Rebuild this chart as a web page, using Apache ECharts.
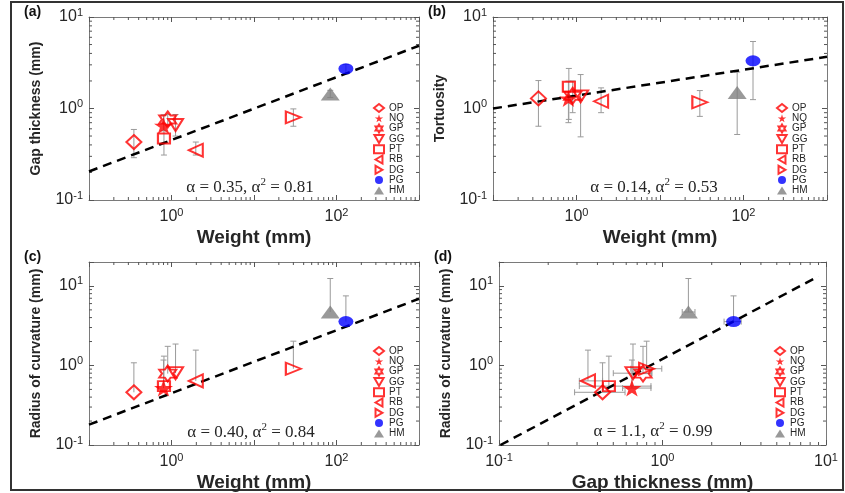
<!DOCTYPE html>
<html>
<head>
<meta charset="utf-8">
<script src="https://cdn.jsdelivr.net/npm/echarts@6.0.0/dist/echarts.min.js"></script>
<style>
  html, body { margin: 0; padding: 0; background: #fff; }
  #chart { width: 845px; height: 493px; }
</style>
</head>
<body>
<div id="chart"></div>
<script>
// sample codes, same order in every array below
var codes = ['OP', 'NQ', 'GP', 'GG', 'PT', 'RB', 'DG', 'PG', 'HM'];
var weight = [0.35, 0.80, 0.90, 1.12, 0.81, 1.97, 30, 130, 84];
var gap = [0.43, 0.65, 0.76, 0.66, 0.47, 0.35, 0.80, 2.72, 1.44];
var gapLo = [0.29, 0.57, 0.66, 0.50, 0.31, 0.31, 0.64, 2.38, 1.32];
var gapHi = [0.59, 0.85, 0.86, 0.86, 0.85, 0.43, 0.99, 3.03, 1.58];
var tort = [1.29, 1.29, 1.38, 1.36, 1.73, 1.20, 1.17, 3.32, 1.50];
var tortLo = [0.64, 0.70, 0.90, 0.49, 0.76, 0.90, 0.82, 1.25, 0.52];
var tortHi = [2.02, 1.99, 2.00, 2.35, 2.74, 1.68, 1.57, 5.40, 2.50];
var radius = [0.46, 0.52, 0.79, 0.80, 0.55, 0.64, 0.91, 3.56, 4.70];
var radHi = [1.08, 1.17, 1.74, 1.86, 1.31, 1.56, 2.02, 7.50, 12.4];

// power-law fit lines (end points)
var fitA = [[0.1, 0.205], [1000, 4.85]];
var fitB = [[0.1, 1.0], [1000, 3.67]];
var fitC = [[0.1, 0.18], [1000, 6.9]];
var fitD = [[0.102, 0.1], [9.0, 13.2]];

var statA = ['0.35', '0.81'];
var statB = ['0.14', '0.53'];
var statC = ['0.40', '0.84'];
var statD = ['1.1', '0.99'];

// labelled tick exponents
var xExpW = [0, 2];
var xExpG = [-1, 0, 1];
var yExp = [-1, 0, 1];
var minorMant = [2, 3, 4, 5, 6, 7, 8, 9];

var SANS = '"Liberation Sans", Arial, sans-serif';
var SERIF = '"Liberation Serif", "DejaVu Serif", serif';
var TXT = '#262626';
var RED = '#ff0000';
var BAR = '#9a9a9a';

var STAR = 'path://M50,0 L61,35 L98,35 L68,57 L79,91 L50,70 L21,91 L32,57 L2,35 L39,35 Z';
var HEX = 'path://M50,0 L64.4,25 L93.3,25 L78.9,50 L93.3,75 L64.4,75 L50,100 L35.6,75 L6.7,75 L21.1,50 L6.7,25 L35.6,25 Z';
var TRI_D = 'path://M0,0 L100,0 L50,87 Z';
var TRI_L = 'path://M0,50 L87,0 L87,100 Z';
var TRI_R = 'path://M87,50 L0,0 L0,100 Z';

var hollow = { color: 'rgba(255,255,255,0)', borderColor: RED, borderWidth: 2 };
var markers = {
  OP: { symbol: 'diamond', size: [15, 14], style: hollow },
  NQ: { symbol: STAR, size: [19, 17], style: { color: RED } },
  GP: { symbol: HEX, size: [17, 16], style: hollow },
  GG: { symbol: TRI_D, size: [15, 12], style: hollow },
  PT: { symbol: 'rect', size: [12, 10], style: hollow },
  RB: { symbol: TRI_L, size: [14, 13], style: hollow },
  DG: { symbol: TRI_R, size: [15, 12], style: hollow },
  PG: { symbol: 'circle', size: [15, 11], style: { color: '#0000ff' } },
  HM: { symbol: 'triangle', size: [19, 13], style: { color: '#808080' } }
};

var panels = [
  { tag: '(a)', grid: { left: 89, top: 17, width: 330, height: 183 }, xr: [0.1, 1000], yr: [0.1, 10],
    xs: weight, ys: gap, yLo: gapLo, yHi: gapHi, fit: fitA, stat: statA, xExp: xExpW,
    xName: 'Weight (mm)', yName: 'Gap thickness (mm)', legend: [373, 103], statPos: [250, 188] },
  { tag: '(b)', grid: { left: 493, top: 17, width: 334, height: 183 }, xr: [0.1, 1000], yr: [0.1, 10],
    xs: weight, ys: tort, yLo: tortLo, yHi: tortHi, fit: fitB, stat: statB, xExp: xExpW,
    xName: 'Weight (mm)', yName: 'Tortuosity', legend: [776, 103], statPos: [654, 188] },
  { tag: '(c)', grid: { left: 89, top: 262, width: 330, height: 183 }, xr: [0.1, 1000], yr: [0.1, 20],
    xs: weight, ys: radius, yLo: radius, yHi: radHi, fit: fitC, stat: statC, xExp: xExpW,
    xName: 'Weight (mm)', yName: 'Radius of curvature (mm)', legend: [373, 346], statPos: [251, 433] },
  { tag: '(d)', grid: { left: 499, top: 262, width: 327, height: 183 }, xr: [0.1, 10], yr: [0.1, 20],
    xs: gap, ys: radius, yLo: radius, yHi: radHi, xLo: gapLo, xHi: gapHi, fit: fitD, stat: statD, xExp: xExpG,
    xName: 'Gap thickness (mm)', yName: 'Radius of curvature (mm)', legend: [774, 346], statPos: [653, 432] }
];

function powLabel(exps) {
  return function (v) {
    var l = Math.log10(v), e = Math.round(l);
    if (Math.abs(l - e) > 1e-6 || exps.indexOf(e) < 0) return '';
    return '{b|10}{s|' + e + '}';
  };
}
var labelRich = {
  b: { fontSize: 16, color: TXT, fontFamily: SANS },
  s: { fontSize: 11, color: TXT, fontFamily: SANS, padding: [0, 0, 9, 0] }
};

function logAxis(range, extra) {
  var a = {
    type: 'log', logBase: 10, min: range[0], max: range[1],
    splitLine: { show: false },
    axisLine: { lineStyle: { color: '#7a7a7a', width: 1 } },
    axisTick: { inside: true, length: 5, lineStyle: { color: '#555' } }
  };
  for (var k in extra) a[k] = extra[k];
  return a;
}

function minorVals(range) {
  var out = [];
  for (var e = Math.floor(Math.log10(range[0])); e < Math.log10(range[1]); e++) {
    minorMant.forEach(function (m) {
      var v = m * Math.pow(10, e);
      if (v > range[0] && v < range[1]) out.push(v);
    });
  }
  return out;
}

function seg(x1, y1, x2, y2, color) {
  return { type: 'line', shape: { x1: x1, y1: y1, x2: x2, y2: y2 }, style: { stroke: color || BAR, lineWidth: 1 } };
}

function vBar(params, api) {
  var x = api.value(0), y = api.value(1), lo = api.value(2), hi = api.value(3);
  var a = api.coord([x, lo]), b = api.coord([x, hi]);
  var kids = [seg(a[0], a[1], b[0], b[1]), seg(b[0] - 3, b[1], b[0] + 3, b[1])];
  if (lo < y) kids.push(seg(a[0] - 3, a[1], a[0] + 3, a[1]));
  return { type: 'group', children: kids };
}

function hBar(params, api) {
  var y = api.value(1), lo = api.value(2), hi = api.value(3);
  var a = api.coord([lo, y]), b = api.coord([hi, y]);
  return { type: 'group', children: [
    seg(a[0], a[1], b[0], b[1]), seg(a[0], a[1] - 3, a[0], a[1] + 3), seg(b[0], b[1] - 3, b[0], b[1] + 3)
  ] };
}

function xMinor(params, api) {
  var cs = params.coordSys, p = api.coord([api.value(0), api.value(1)]);
  var yb = cs.y + cs.height;
  return { type: 'group', children: [seg(p[0], yb, p[0], yb - 3, '#555'), seg(p[0], cs.y, p[0], cs.y + 3, '#555')] };
}
function yMinor(params, api) {
  var cs = params.coordSys, p = api.coord([api.value(0), api.value(1)]);
  var xr = cs.x + cs.width;
  return { type: 'group', children: [seg(cs.x, p[1], cs.x + 3, p[1], '#555'), seg(xr, p[1], xr - 3, p[1], '#555')] };
}

var option = {
  backgroundColor: '#fff',
  animation: false,
  grid: [], xAxis: [], yAxis: [], legend: [], series: [],
  graphic: [
    { type: 'rect', shape: { x: 11, y: 2, width: 832, height: 488 }, style: { fill: 'none', stroke: '#333', lineWidth: 2 } }
  ]
};

panels.forEach(function (p, i) {
  var g = p.grid;
  option.grid.push({ left: g.left, top: g.top, width: g.width, height: g.height, outerBoundsMode: 'none' });

  option.xAxis.push(logAxis(p.xr, {
    gridIndex: i, position: 'bottom',
    axisLabel: { formatter: powLabel(p.xExp), rich: labelRich, margin: 7 },
    name: p.xName, nameLocation: 'middle', nameGap: 28,
    nameTextStyle: { fontSize: 19, fontWeight: 'bold', color: TXT, fontFamily: SANS }
  }));
  option.xAxis.push(logAxis(p.xr, { gridIndex: i, position: 'top', axisLabel: { show: false } }));
  option.yAxis.push(logAxis(p.yr, {
    gridIndex: i, position: 'left',
    axisLabel: { formatter: powLabel(yExp), rich: labelRich, margin: 6 },
    name: p.yName, nameLocation: 'middle', nameGap: 46,
    nameTextStyle: { fontSize: 14, fontWeight: 'bold', color: TXT, fontFamily: SANS }
  }));
  option.yAxis.push(logAxis(p.yr, { gridIndex: i, position: 'right', axisLabel: { show: false } }));

  var xi = 2 * i, yi = 2 * i;

  option.series.push({
    type: 'custom', xAxisIndex: xi, yAxisIndex: yi, silent: true, z: 1, clip: false,
    renderItem: xMinor, data: minorVals(p.xr).map(function (v) { return [v, p.yr[0]]; })
  });
  option.series.push({
    type: 'custom', xAxisIndex: xi, yAxisIndex: yi, silent: true, z: 1, clip: false,
    renderItem: yMinor, data: minorVals(p.yr).map(function (v) { return [p.xr[0], v]; })
  });

  // vertical error bars
  option.series.push({
    type: 'custom', xAxisIndex: xi, yAxisIndex: yi, silent: true, z: 2,
    renderItem: vBar,
    data: codes.map(function (c, k) { return [p.xs[k], p.ys[k], p.yLo[k], p.yHi[k]]; })
  });
  // horizontal error bars
  if (p.xLo) {
    option.series.push({
      type: 'custom', xAxisIndex: xi, yAxisIndex: yi, silent: true, z: 2,
      renderItem: hBar,
      data: codes.map(function (c, k) { return [p.xs[k], p.ys[k], p.xLo[k], p.xHi[k]]; })
    });
  }

  option.series.push({
    type: 'line', xAxisIndex: xi, yAxisIndex: yi, silent: true, z: 3,
    data: p.fit, showSymbol: false, symbol: 'none',
    lineStyle: { color: '#000', width: 2.5, type: [9, 6] }
  });

  codes.forEach(function (c, k) {
    var m = markers[c];
    option.series.push({
      type: 'scatter', name: c, xAxisIndex: xi, yAxisIndex: yi, z: 4,
      data: [[p.xs[k], p.ys[k]]],
      symbol: m.symbol, symbolSize: m.size,
      itemStyle: m.style
    });
  });

  option.legend.push({
    orient: 'vertical', left: p.legend[0], top: p.legend[1], padding: 0,
    itemWidth: 10, itemHeight: 8, itemGap: 0.3, selectedMode: false,
    data: codes,
    textStyle: { fontSize: 10, lineHeight: 10, color: TXT, fontFamily: SANS }
  });

  option.graphic.push({
    type: 'text', x: g.left - 65, y: g.top - 5,
    style: { text: p.tag, font: 'bold 14px ' + SANS, fill: '#111', verticalAlign: 'middle' }
  });
  option.graphic.push({
    type: 'text', x: p.statPos[0], y: p.statPos[1],
    style: {
      text: '{t|α = ' + p.stat[0] + ', α}{s|2}{t| = ' + p.stat[1] + '}',
      align: 'center', verticalAlign: 'middle',
      rich: {
        t: { fontSize: 17, fontFamily: SERIF, fill: TXT },
        s: { fontSize: 11, fontFamily: SERIF, fill: TXT, padding: [0, 0, 12, 0] }
      }
    }
  });
});

var chart = echarts.init(document.getElementById('chart'));
chart.setOption(option);
</script>
</body>
</html>
